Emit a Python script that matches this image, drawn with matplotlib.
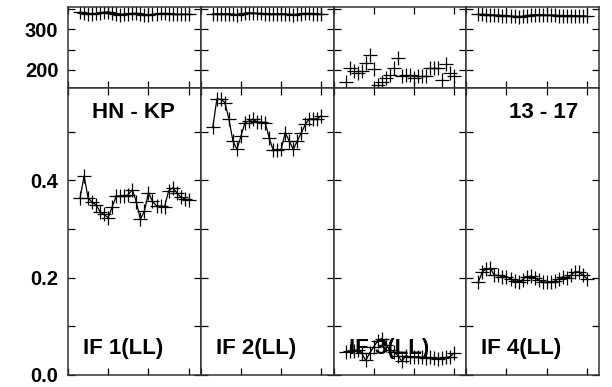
import matplotlib
matplotlib.use("Agg")
import matplotlib.pyplot as plt
from matplotlib.ticker import MultipleLocator, FuncFormatter

plt.rcParams['font.family'] = ['Liberation Sans', 'DejaVu Sans']
plt.rcParams['font.weight'] = 'bold'

x = [3, 4, 5, 6, 7, 8, 9, 10, 11, 12, 13, 14, 15, 16, 17, 18, 19, 20,
     21, 22, 23, 24, 25, 26, 27, 28, 29, 30]

top_if1 = [343, 340, 338, 337, 339, 341, 342, 343, 341, 338, 336, 338, 337, 339,
           340, 338, 336, 335, 337, 337, 339, 339, 338, 338, 337, 337, 337, 337]
top_if2 = [338, 338, 338, 338, 338, 337, 336, 337, 340, 341, 340, 339, 339, 338,
           338, 338, 338, 338, 338, 337, 336, 337, 338, 339, 339, 338, 338, 337]
top_if3 = [171, 204, 196, 192, 196, 216, 237, 202, 163, 171, 180, 188, 204, 228,
           184, 188, 188, 180, 184, 184, 184, 204, 204, 204, 174, 215, 192, 185]
top_if4 = [337, 337, 336, 336, 335, 335, 334, 334, 333, 332, 331, 332, 334, 335,
           336, 336, 336, 335, 335, 335, 334, 334, 334, 334, 334, 333, 333, 333]

bot_if1 = [0.364, 0.409, 0.364, 0.355, 0.350, 0.335, 0.330, 0.323, 0.346, 0.368,
           0.368, 0.367, 0.371, 0.381, 0.355, 0.320, 0.337, 0.375, 0.357, 0.348,
           0.347, 0.346, 0.378, 0.385, 0.375, 0.366, 0.362, 0.359]
bot_if2 = [0.509, 0.567, 0.567, 0.560, 0.526, 0.481, 0.464, 0.491, 0.519, 0.522,
           0.526, 0.520, 0.520, 0.519, 0.488, 0.462, 0.462, 0.464, 0.498, 0.481,
           0.464, 0.481, 0.498, 0.515, 0.527, 0.526, 0.527, 0.533]
bot_if3 = [0.048, 0.050, 0.050, 0.052, 0.045, 0.030, 0.045, 0.058, 0.070, 0.075,
           0.062, 0.052, 0.048, 0.040, 0.028, 0.040, 0.036, 0.037, 0.038, 0.036,
           0.035, 0.036, 0.035, 0.033, 0.034, 0.036, 0.038, 0.045]
bot_if4 = [0.191, 0.212, 0.218, 0.219, 0.205, 0.205, 0.202, 0.202, 0.198, 0.193,
           0.191, 0.196, 0.202, 0.203, 0.200, 0.195, 0.191, 0.191, 0.191, 0.193,
           0.198, 0.202, 0.200, 0.205, 0.212, 0.212, 0.205, 0.198]

top_series = [top_if1, top_if2, top_if3, top_if4]
bot_series = [bot_if1, bot_if2, bot_if3, bot_if4]
panel_labels = ["IF 1(LL)", "IF 2(LL)", "IF 3(LL)", "IF 4(LL)"]
title_left = "HN - KP"
title_right = "13 - 17"

W, H = 612, 387
fig = plt.figure(figsize=(W / 100, H / 100), dpi=100)
gs = fig.add_gridspec(2, 4, left=68 / W, right=599 / W, top=1 - 7 / H, bottom=1 - 375 / H,
                      height_ratios=[81, 287], wspace=0, hspace=0)

spine_col = '#333333'
for c in range(4):
    at = fig.add_subplot(gs[0, c])
    ab = fig.add_subplot(gs[1, c])
    for ax in (at, ab):
        ax.set_xlim(0, 33)
        ax.xaxis.set_major_locator(MultipleLocator(10))
        ax.tick_params(direction='in', top=True, right=True, length=5, width=0.9,
                       colors='black', labelsize=14.5, pad=7)
        ax.tick_params(axis='x', labelbottom=False)
        for s in ax.spines.values():
            s.set_color(spine_col)
            s.set_linewidth(1.1)
    at.set_ylim(155, 355)
    at.yaxis.set_major_locator(MultipleLocator(50))
    at.yaxis.set_major_formatter(FuncFormatter(lambda v, p: f"{v:.0f}" if v % 100 == 0 else ""))
    ab.set_ylim(0, 0.59)
    ab.yaxis.set_major_locator(MultipleLocator(0.1))
    ab.yaxis.set_major_formatter(FuncFormatter(
        lambda v, p: f"{v:.1f}" if abs(round(v * 10) % 2) < 1e-9 else ""))
    if c > 0:
        at.tick_params(axis='y', labelleft=False)
        ab.tick_params(axis='y', labelleft=False)

    if c == 2:
        at.plot(x, top_series[c], linestyle='none', marker='+', color='black',
                markersize=10, markeredgewidth=0.9, clip_on=True)
    else:
        at.plot(x, top_series[c], linestyle='-', linewidth=0.9, marker='+', color='black',
                markersize=10, markeredgewidth=0.9)
    ab.plot(x, bot_series[c], linestyle='-', linewidth=0.9, marker='+', color='black',
            markersize=10, markeredgewidth=0.9)
    ab.text(0.113, 0.094, panel_labels[c], transform=ab.transAxes, ha='left', va='center',
            fontsize=16, fontweight='bold')
    if c == 0:
        ab.text(0.49, 0.913, title_left, transform=ab.transAxes, ha='center', va='center',
                fontsize=16, fontweight='bold')
    if c == 3:
        ab.text(0.583, 0.913, title_right, transform=ab.transAxes, ha='center', va='center',
                fontsize=16, fontweight='bold')

fig.savefig("out.png", dpi=100)
